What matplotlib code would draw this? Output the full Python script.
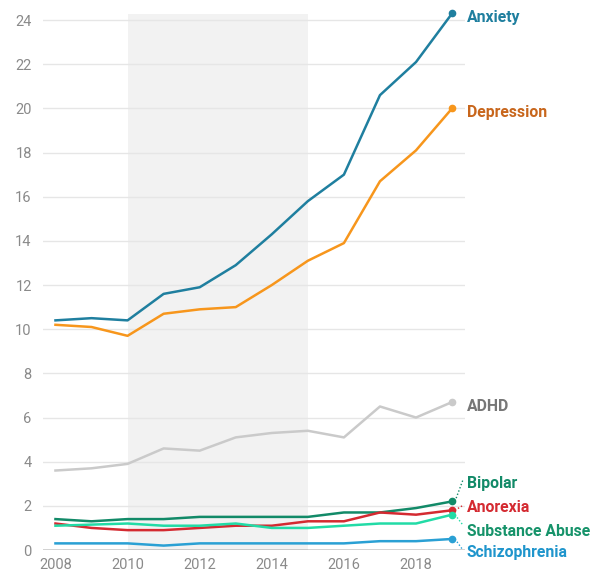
import matplotlib
matplotlib.use("Agg")
import matplotlib.pyplot as plt

plt.rcParams['font.family'] = ['Roboto', 'DejaVu Sans']

years = list(range(2008, 2020))

anxiety = [10.4, 10.5, 10.4, 11.6, 11.9, 12.9, 14.3, 15.8, 17.0, 20.6, 22.1, 24.3]
depression = [10.2, 10.1, 9.7, 10.7, 10.9, 11.0, 12.0, 13.1, 13.9, 16.7, 18.1, 20.0]
adhd = [3.6, 3.7, 3.9, 4.6, 4.5, 5.1, 5.3, 5.4, 5.1, 6.5, 6.0, 6.7]
bipolar = [1.4, 1.3, 1.4, 1.4, 1.5, 1.5, 1.5, 1.5, 1.7, 1.7, 1.9, 2.2]
anorexia = [1.2, 1.0, 0.9, 0.9, 1.0, 1.1, 1.1, 1.3, 1.3, 1.7, 1.6, 1.8]
substance = [1.1, 1.15, 1.2, 1.1, 1.1, 1.2, 1.0, 1.0, 1.1, 1.2, 1.2, 1.6]
schizophrenia = [0.3, 0.3, 0.3, 0.2, 0.3, 0.3, 0.3, 0.3, 0.3, 0.4, 0.4, 0.5]

yticks = [0, 2, 4, 6, 8, 10, 12, 14, 16, 18, 20, 22, 24]
xticks = [2008, 2010, 2012, 2014, 2016, 2018]
shade_span = (2010, 2015)

# (name, values, line colour, label colour, label baseline, leader end or None)
series = [
    ("Anxiety", anxiety, "#1f7f9f", "#1f7f9f", 23.93, None),
    ("Depression", depression, "#f7961c", "#c8661c", 19.62, None),
    ("ADHD", adhd, "#cacaca", "#777777", 6.31, None),
    ("Bipolar", bipolar, "#128a68", "#128a68", 2.79, 3.17),
    ("Anorexia", anorexia, "#d42a31", "#d42a31", 1.73, 2.02),
    ("Substance Abuse", substance, "#22dba6", "#16936a", 0.65, 1.13),
    ("Schizophrenia", schizophrenia, "#2aa0d4", "#1f95cc", -0.33, 0.0),
]

fig = plt.figure(figsize=(5.95, 5.74), dpi=100)
ax = fig.add_axes([0.072, 0.0418, 0.709, 0.9336])

ax.axvspan(*shade_span, color="#f2f2f2", zorder=0, lw=0)
for t in yticks[1:]:
    ax.axhline(t, color="#e6e6e6", lw=1.0, zorder=1)
ax.axhline(0, color="#222222", lw=1.0, zorder=2)

label_x = 2019.41
leader_x = 2019.3
for name, vals, lc, tc, ly, lead in series:
    ax.plot(years, vals, color=lc, lw=1.8, zorder=3, solid_joinstyle="round",
            clip_on=False)
    ax.plot(years[-1], vals[-1], "o", color=lc, ms=4.5, zorder=4, clip_on=False)
    if lead is not None:
        ax.plot([years[-1] + 0.08, leader_x], [vals[-1], lead],
                ls=(0, (1, 1.5)), color=lc, lw=1.0, clip_on=False, zorder=3)
    ax.text(label_x, ly, name, color=tc, fontsize=11.3, fontweight="bold",
            va="baseline", ha="left", clip_on=False)

ax.set_xlim(2007.65, 2019.35)
ax.set_ylim(0, 24.27)
ax.set_yticks(yticks)
ax.set_xticks(xticks)
ax.tick_params(axis="both", length=0, labelsize=10.5, colors="#8a8a8a", pad=6)
ax.tick_params(axis="y", pad=8)
for s in ax.spines.values():
    s.set_visible(False)

fig.savefig("out.png", dpi=100)
